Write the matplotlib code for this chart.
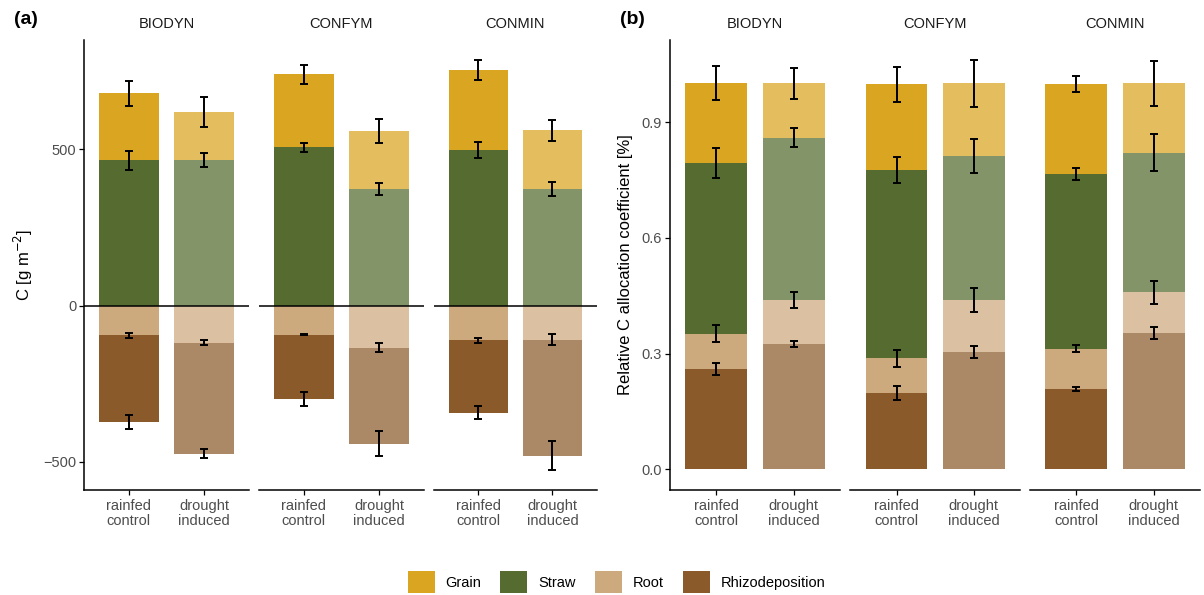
import matplotlib
matplotlib.use("Agg")
import matplotlib.pyplot as plt
from matplotlib.patches import Patch
import numpy as np

plt.rcParams['font.family'] = ['Liberation Sans', 'DejaVu Sans']

systems = ["BIODYN", "CONFYM", "CONMIN"]
treatments = ["rainfed\ncontrol", "drought\ninduced"]
components = ["Grain", "Straw", "Root", "Rhizodeposition"]

# Panel (a): C [g m-2], order per system: [rainfed, drought]
grain_a = [[214, 154], [234, 186], [256, 189]]
straw_a = [[465, 465], [506, 372], [497, 372]]
root_a = [[96, 119], [93, 135], [112, 109]]
rhizo_a = [[276, 355], [207, 307], [231, 372]]
grain_a_se = [[40, 47], [30, 38], [32, 33]]
straw_a_se = [[30, 23], [14, 19], [25, 23]]
root_a_se = [[7, 7], [3, 15], [8, 18]]
rhizo_a_se = [[22, 15], [22, 39], [20, 46]]

# Panel (b): relative C allocation coefficient
grain_b = [[0.206, 0.141], [0.222, 0.188], [0.233, 0.180]]
straw_b = [[0.443, 0.420], [0.488, 0.373], [0.452, 0.361]]
root_b = [[0.091, 0.114], [0.090, 0.135], [0.105, 0.106]]
rhizo_b = [[0.260, 0.325], [0.198, 0.304], [0.208, 0.353]]
grain_b_se = [[0.044, 0.041], [0.045, 0.061], [0.020, 0.059]]
straw_b_se = [[0.039, 0.025], [0.033, 0.045], [0.015, 0.048]]
root_b_se = [[0.022, 0.020], [0.022, 0.031], [0.009, 0.030]]
rhizo_b_se = [[0.016, 0.008], [0.019, 0.016], [0.006, 0.016]]

colors = {"Grain": "#DAA520", "Straw": "#556B2F", "Root": "#CDAA7D",
          "Rhizodeposition": "#8B5A2B"}
alphas = [1.0, 0.72]

W, H = 1204, 595
fig = plt.figure(figsize=(W / 100, H / 100), dpi=100)

tick_col = "#4D4D4D"


def px_axes(x0, x1, y0=40, y1=490):
    return fig.add_axes([x0 / W, 1 - y1 / H, (x1 - x0) / W, (y1 - y0) / H])


def style(ax, first, ylim, yticks, yticklabels):
    ax.set_xlim(-0.6, 1.6)
    ax.set_ylim(*ylim)
    for s in ["top", "right"]:
        ax.spines[s].set_visible(False)
    ax.spines["bottom"].set_linewidth(1.1)
    ax.spines["left"].set_linewidth(1.1)
    ax.set_xticks([0, 1])
    ax.set_xticklabels(treatments, color=tick_col, fontsize=10.5,
                       linespacing=1.1)
    ax.tick_params(axis="x", length=3.5, width=0.9, pad=3)
    if first:
        ax.set_yticks(yticks)
        ax.set_yticklabels(yticklabels, color=tick_col, fontsize=10.5)
        ax.tick_params(axis="y", length=3.5, width=0.9, pad=2)
    else:
        ax.spines["left"].set_visible(False)
        ax.set_yticks([])
    ax.patch.set_alpha(0)


eb_kw = dict(fmt="none", ecolor="black", elinewidth=1.4, capsize=3.2,
             capthick=1.4, zorder=5)

# ---------- Panel (a) ----------
facets_a = [(83.8, 249), (258.8, 424), (433.8, 597)]
for i, (x0, x1) in enumerate(facets_a):
    ax = px_axes(x0, x1)
    x = np.arange(2)
    for j in range(2):
        a = alphas[j]
        ax.bar(x[j], straw_a[i][j], 0.8, bottom=0, color=colors["Straw"],
               alpha=a, linewidth=0)
        ax.bar(x[j], grain_a[i][j], 0.8, bottom=straw_a[i][j],
               color=colors["Grain"], alpha=a, linewidth=0)
        ax.bar(x[j], -root_a[i][j], 0.8, bottom=0, color=colors["Root"],
               alpha=a, linewidth=0)
        ax.bar(x[j], -rhizo_a[i][j], 0.8, bottom=-root_a[i][j],
               color=colors["Rhizodeposition"], alpha=a, linewidth=0)
        ax.errorbar(x[j], straw_a[i][j] + grain_a[i][j],
                    yerr=grain_a_se[i][j], **eb_kw)
        ax.errorbar(x[j], straw_a[i][j], yerr=straw_a_se[i][j], **eb_kw)
        ax.errorbar(x[j], -root_a[i][j], yerr=root_a_se[i][j], **eb_kw)
        ax.errorbar(x[j], -(root_a[i][j] + rhizo_a[i][j]),
                    yerr=rhizo_a_se[i][j], **eb_kw)
    ax.axhline(0, color="black", linewidth=1.1, zorder=4)
    style(ax, i == 0, (-590.6, 849.9), [-500, 0, 500],
          ["\u2212500", "0", "500"])
    fig.text(((x0 + x1) / 2) / W, 1 - 24 / H, systems[i], ha="center",
             va="center", fontsize=10.5, color="#1A1A1A")
    if i == 0:
        ax.set_ylabel("C [g m$^{-2}$]", fontsize=12, labelpad=6)

# ---------- Panel (b) ----------
facets_b = [(669.6, 840), (850.4, 1020), (1029.6, 1200)]
for i, (x0, x1) in enumerate(facets_b):
    ax = px_axes(x0, x1)
    x = np.arange(2)
    for j in range(2):
        a = alphas[j]
        b0 = rhizo_b[i][j]
        b1 = b0 + root_b[i][j]
        b2 = b1 + straw_b[i][j]
        b3 = b2 + grain_b[i][j]
        ax.bar(x[j], rhizo_b[i][j], 0.8, bottom=0,
               color=colors["Rhizodeposition"], alpha=a, linewidth=0)
        ax.bar(x[j], root_b[i][j], 0.8, bottom=b0, color=colors["Root"],
               alpha=a, linewidth=0)
        ax.bar(x[j], straw_b[i][j], 0.8, bottom=b1, color=colors["Straw"],
               alpha=a, linewidth=0)
        ax.bar(x[j], grain_b[i][j], 0.8, bottom=b2, color=colors["Grain"],
               alpha=a, linewidth=0)
        ax.errorbar(x[j], b0, yerr=rhizo_b_se[i][j], **eb_kw)
        ax.errorbar(x[j], b1, yerr=root_b_se[i][j], **eb_kw)
        ax.errorbar(x[j], b2, yerr=straw_b_se[i][j], **eb_kw)
        ax.errorbar(x[j], b3, yerr=grain_b_se[i][j], **eb_kw)
    style(ax, i == 0, (-0.0536, 1.1125), [0.0, 0.3, 0.6, 0.9],
          ["0.0", "0.3", "0.6", "0.9"])
    fig.text(((x0 + x1) / 2) / W, 1 - 24 / H, systems[i], ha="center",
             va="center", fontsize=10.5, color="#1A1A1A")
    if i == 0:
        ax.set_ylabel("Relative C allocation coefficient [%]", fontsize=12,
                      labelpad=6)

fig.text(14 / W, 1 - 20 / H, "(a)", fontsize=14, fontweight="bold",
         ha="left", va="center")
fig.text(620 / W, 1 - 20 / H, "(b)", fontsize=14, fontweight="bold",
         ha="left", va="center")

handles = [Patch(facecolor=colors[c], edgecolor="none") for c in components]
fig.legend(handles, components, loc="center",
           bbox_to_anchor=(616.5 / W, 1 - 582 / H), ncol=4, frameon=False,
           fontsize=10.5, handlelength=1.85, handleheight=1.85,
           handletextpad=0.75, columnspacing=1.3, borderaxespad=0)

fig.savefig("out.png", dpi=100)
